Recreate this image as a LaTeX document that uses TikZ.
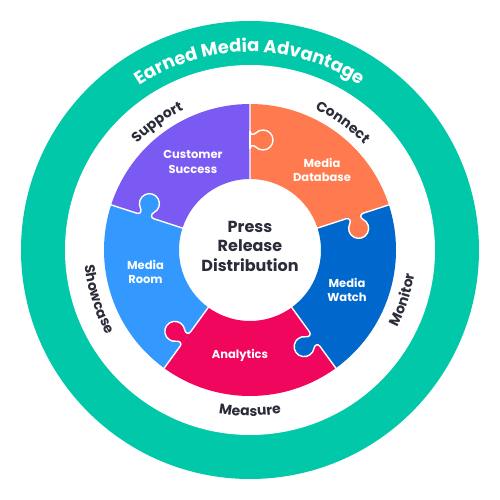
\documentclass[tikz,border=0pt]{standalone}
\usepackage{fontspec}
\setmainfont{Poppins}
\usetikzlibrary{decorations.text}
\definecolor{cTeal}{HTML}{00C8A8}
\definecolor{cPurple}{HTML}{7B5AF3}
\definecolor{cOrange}{HTML}{FF7A4E}
\definecolor{cDark}{HTML}{0067CC}
\definecolor{cLight}{HTML}{3399FE}
\definecolor{cRed}{HTML}{F0065C}
\definecolor{cText}{HTML}{2B2D3A}
\newcommand\knobpath{(0,-9) .. controls (0,-5.5) and (3.4,-4.6) .. (5.93,-7.07) arc[start angle=-135, end angle=135, radius=10] .. controls (3.4,4.6) and (0,5.5) .. (0,9)}
\newcommand\labfont{\fontsize{14}{16}\selectfont\bfseries}
\tikzset{
  piecelabel/.style={align=center, text=white, font=\fontsize{11.5}{14.5}\selectfont\bfseries},
  seam/.style={white, line width=1.4pt, line join=round},
  ringlabel/.style={decorate, decoration={text along path, text={|\labfont|#1}, text align=center, text color=cText}},
}
\begin{document}
\begin{tikzpicture}[x=1pt,y=1pt]
\useasboundingbox (-250,-250) rectangle (250,250);
% outer ring
\fill[cTeal] (0,0) circle (229);
\fill[white] (0,0) circle (185);
% pieces
\foreach \a/\b/\c in {18/90/cOrange, -54/18/cDark, -126/-54/cRed, 162/234/cLight, 90/162/cPurple}{
  \fill[\c] (\a:71) -- (\a:146) arc[start angle=\a, end angle=\b, radius=146] -- (\b:71) arc[start angle=\b, end angle=\a, radius=71] -- cycle;
}
% knobs and seams
\foreach \t/\c in {90/cOrange, 18/cOrange, -54/cDark, -126/cRed, 162/cLight}{
  \begin{scope}[shift={(\t:110)}, rotate=\t-90]
    \fill[\c] \knobpath -- cycle;
    \draw[seam] (0,-39.5) -- \knobpath -- (0,36.5);
  \end{scope}
}
\begin{scope}[shift={(90:110)}]
  \draw[seam] (0,-9) -- (0,9);
\end{scope}
% center text
\node[align=center, text=cText, font=\fontsize{16}{19.5}\selectfont\bfseries] (center) at (0,4) {Press\\Release\\Distribution};
% piece labels
\node[piecelabel] (cs) at (-57,88) {Customer\\Success};
\node[piecelabel] (md) at (72,80) {Media\\Database};
\node[piecelabel] (mr) at (-104.5,-22) {Media\\Room};
\node[piecelabel] (mw) at (97,-40) {Media\\Watch};
\node[piecelabel] (an) at (-10,-105) {Analytics};
% ring labels
\path[decorate, decoration={text along path, text={|\fontsize{18}{20}\selectfont\bfseries|Earned Media Advantage}, text align=center, text color=white}] (150:198) arc[start angle=150, end angle=30, radius=198];
\path[ringlabel=Support] (156:155) arc[start angle=156, end angle=96, radius=155];
\path[ringlabel=Connect] (84:155) arc[start angle=84, end angle=24, radius=155];
\path[ringlabel=Showcase] (168:166) arc[start angle=168, end angle=228, radius=166];
\path[ringlabel=Monitor] (-48:166) arc[start angle=-48, end angle=12, radius=166];
\path[ringlabel=Measure] (-120:166) arc[start angle=-120, end angle=-60, radius=166];
\end{tikzpicture}
\end{document}
